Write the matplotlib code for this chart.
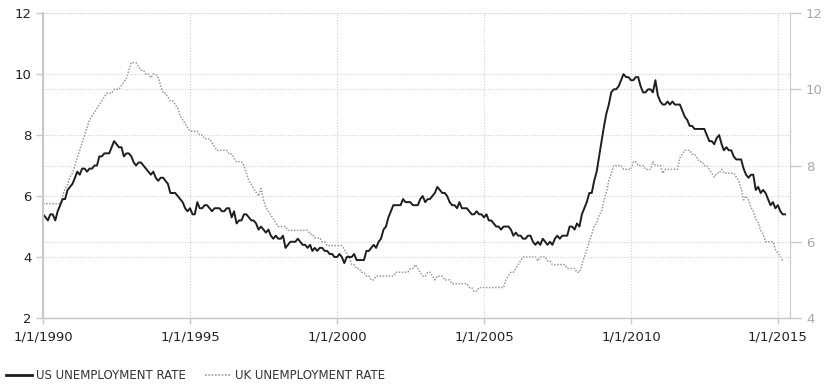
import numpy as np
import pandas as pd
import matplotlib
matplotlib.use("Agg")
import matplotlib.pyplot as plt
from matplotlib.lines import Line2D

# ---------------------------------------------------------
# dados mensais (jan/1990 em diante)
# ---------------------------------------------------------

us_rate = [
    5.4, 5.3, 5.2, 5.4, 5.4, 5.2, 5.5, 5.7, 5.9, 5.9, 6.2, 6.3,   # 1990
    6.4, 6.6, 6.8, 6.7, 6.9, 6.9, 6.8, 6.9, 6.9, 7.0, 7.0, 7.3,   # 1991
    7.3, 7.4, 7.4, 7.4, 7.6, 7.8, 7.7, 7.6, 7.6, 7.3, 7.4, 7.4,   # 1992
    7.3, 7.1, 7.0, 7.1, 7.1, 7.0, 6.9, 6.8, 6.7, 6.8, 6.6, 6.5,   # 1993
    6.6, 6.6, 6.5, 6.4, 6.1, 6.1, 6.1, 6.0, 5.9, 5.8, 5.6, 5.5,   # 1994
    5.6, 5.4, 5.4, 5.8, 5.6, 5.6, 5.7, 5.7, 5.6, 5.5, 5.6, 5.6,   # 1995
    5.6, 5.5, 5.5, 5.6, 5.6, 5.3, 5.5, 5.1, 5.2, 5.2, 5.4, 5.4,   # 1996
    5.3, 5.2, 5.2, 5.1, 4.9, 5.0, 4.9, 4.8, 4.9, 4.7, 4.6, 4.7,   # 1997
    4.6, 4.6, 4.7, 4.3, 4.4, 4.5, 4.5, 4.5, 4.6, 4.5, 4.4, 4.4,   # 1998
    4.3, 4.4, 4.2, 4.3, 4.2, 4.3, 4.3, 4.2, 4.2, 4.1, 4.1, 4.0,   # 1999
    4.0, 4.1, 4.0, 3.8, 4.0, 4.0, 4.0, 4.1, 3.9, 3.9, 3.9, 3.9,   # 2000
    4.2, 4.2, 4.3, 4.4, 4.3, 4.5, 4.6, 4.9, 5.0, 5.3, 5.5, 5.7,   # 2001
    5.7, 5.7, 5.7, 5.9, 5.8, 5.8, 5.8, 5.7, 5.7, 5.7, 5.9, 6.0,   # 2002
    5.8, 5.9, 5.9, 6.0, 6.1, 6.3, 6.2, 6.1, 6.1, 6.0, 5.8, 5.7,   # 2003
    5.7, 5.6, 5.8, 5.6, 5.6, 5.6, 5.5, 5.4, 5.4, 5.5, 5.4, 5.4,   # 2004
    5.3, 5.4, 5.2, 5.2, 5.1, 5.0, 5.0, 4.9, 5.0, 5.0, 5.0, 4.9,   # 2005
    4.7, 4.8, 4.7, 4.7, 4.6, 4.6, 4.7, 4.7, 4.5, 4.4, 4.5, 4.4,   # 2006
    4.6, 4.5, 4.4, 4.5, 4.4, 4.6, 4.7, 4.6, 4.7, 4.7, 4.7, 5.0,   # 2007
    5.0, 4.9, 5.1, 5.0, 5.4, 5.6, 5.8, 6.1, 6.1, 6.5, 6.8, 7.3,   # 2008
    7.8, 8.3, 8.7, 9.0, 9.4, 9.5, 9.5, 9.6, 9.8, 10.0, 9.9, 9.9,  # 2009
    9.8, 9.8, 9.9, 9.9, 9.6, 9.4, 9.4, 9.5, 9.5, 9.4, 9.8, 9.3,   # 2010
    9.1, 9.0, 9.0, 9.1, 9.0, 9.1, 9.0, 9.0, 9.0, 8.8, 8.6, 8.5,   # 2011
    8.3, 8.3, 8.2, 8.2, 8.2, 8.2, 8.2, 8.0, 7.8, 7.8, 7.7, 7.9,   # 2012
    8.0, 7.7, 7.5, 7.6, 7.5, 7.5, 7.3, 7.2, 7.2, 7.2, 6.9, 6.7,   # 2013
    6.6, 6.7, 6.7, 6.2, 6.3, 6.1, 6.2, 6.1, 5.9, 5.7, 5.8, 5.6,   # 2014
    5.7, 5.5, 5.4, 5.4,                                           # 2015
]

uk_rate = [
    7.0, 7.0, 7.0, 7.0, 7.0, 7.0, 7.0, 7.0, 7.2, 7.4, 7.5, 7.7,   # 1990
    7.8, 8.0, 8.2, 8.4, 8.6, 8.8, 9.0, 9.2, 9.3, 9.4, 9.5, 9.6,   # 1991
    9.7, 9.8, 9.9, 9.9, 9.9, 10.0, 10.0, 10.0, 10.1, 10.2, 10.3, 10.5,  # 1992
    10.7, 10.7, 10.7, 10.6, 10.5, 10.5, 10.4, 10.4, 10.3, 10.4, 10.4, 10.3,  # 1993
    10.1, 9.9, 9.9, 9.8, 9.7, 9.7, 9.6, 9.5, 9.3, 9.2, 9.1, 9.0,  # 1994
    8.9, 8.9, 8.9, 8.9, 8.8, 8.8, 8.7, 8.7, 8.7, 8.6, 8.5, 8.4,   # 1995
    8.4, 8.4, 8.4, 8.4, 8.3, 8.3, 8.2, 8.1, 8.1, 8.1, 8.0, 7.8,   # 1996
    7.6, 7.5, 7.4, 7.3, 7.2, 7.4, 7.1, 6.9, 6.8, 6.7, 6.6, 6.5,   # 1997
    6.4, 6.4, 6.4, 6.4, 6.3, 6.3, 6.3, 6.3, 6.3, 6.3, 6.3, 6.3,   # 1998
    6.3, 6.2, 6.2, 6.1, 6.1, 6.1, 6.0, 6.0, 5.9, 5.9, 5.9, 5.9,   # 1999
    5.9, 5.9, 5.9, 5.8, 5.7, 5.6, 5.4, 5.4, 5.3, 5.3, 5.2, 5.2,   # 2000
    5.1, 5.1, 5.0, 5.0, 5.1, 5.1, 5.1, 5.1, 5.1, 5.1, 5.1, 5.1,   # 2001
    5.2, 5.2, 5.2, 5.2, 5.2, 5.2, 5.3, 5.3, 5.4, 5.3, 5.2, 5.1,   # 2002
    5.1, 5.2, 5.2, 5.1, 5.0, 5.1, 5.1, 5.1, 5.0, 5.0, 5.0, 4.9,   # 2003
    4.9, 4.9, 4.9, 4.9, 4.9, 4.9, 4.8, 4.8, 4.7, 4.7, 4.8, 4.8,   # 2004
    4.8, 4.8, 4.8, 4.8, 4.8, 4.8, 4.8, 4.8, 4.8, 5.0, 5.1, 5.2,   # 2005
    5.2, 5.3, 5.4, 5.5, 5.6, 5.6, 5.6, 5.6, 5.6, 5.6, 5.5, 5.6,   # 2006
    5.6, 5.6, 5.5, 5.5, 5.4, 5.4, 5.4, 5.4, 5.4, 5.4, 5.3, 5.3,   # 2007
    5.3, 5.3, 5.2, 5.2, 5.4, 5.6, 5.8, 6.0, 6.2, 6.4, 6.5, 6.7,   # 2008
    6.8, 7.1, 7.3, 7.6, 7.8, 8.0, 8.0, 8.0, 8.0, 7.9, 7.9, 7.9,   # 2009
    7.9, 8.1, 8.1, 8.0, 8.0, 8.0, 7.9, 7.9, 7.9, 8.1, 8.0, 8.0,   # 2010
    8.0, 7.8, 7.9, 7.9, 7.9, 7.9, 7.9, 7.9, 8.2, 8.3, 8.4, 8.4,   # 2011
    8.4, 8.3, 8.3, 8.2, 8.1, 8.1, 8.0, 8.0, 7.9, 7.8, 7.7, 7.8,   # 2012
    7.8, 7.9, 7.8, 7.8, 7.8, 7.8, 7.8, 7.7, 7.6, 7.4, 7.1, 7.2,   # 2013
    7.1, 6.9, 6.8, 6.6, 6.5, 6.3, 6.2, 6.0, 6.0, 6.0, 6.0, 5.8,   # 2014
    5.7, 5.6, 5.5,                                                # 2015
]

anos_ticks = [1990, 1995, 2000, 2005, 2010, 2015]
rotulos_x = ["1/1/%d" % a for a in anos_ticks]

ticks_esq = [2, 4, 6, 8, 10, 12]
ticks_dir = [4, 6, 8, 10, 12]

# ---------------------------------------------------------
# grafico
# ---------------------------------------------------------

datas_us = pd.date_range("1990-01-01", periods=len(us_rate), freq="MS")
datas_uk = pd.date_range("1990-01-01", periods=len(uk_rate), freq="MS")

fig = plt.figure(figsize=(8.29, 3.85), dpi=100)
ax = fig.add_axes([0.052, 0.174, 0.901, 0.792])
ax2 = ax.twinx()

cor_grade = "#d0d0d0"
cor_eixo = "#c8c8c8"

ax.set_ylim(2, 12)
ax2.set_ylim(4, 12)
ax.set_xlim(pd.Timestamp("1990-01-01"), pd.Timestamp("2015-06-01"))

ax.set_yticks(ticks_esq)
ax2.set_yticks(ticks_dir)
xt = [pd.Timestamp("%d-01-01" % a) for a in anos_ticks]
ax.set_xticks(xt)
ax.set_xticklabels(rotulos_x)

ax.grid(True, color=cor_grade, linestyle=(0, (1, 1.5)), linewidth=0.8)
ax2.grid(True, axis="y", color=cor_grade, linestyle=(0, (1, 1.5)), linewidth=0.8)
ax.set_axisbelow(True)

ax.spines["top"].set_visible(False)
ax2.spines["top"].set_visible(False)
ax2.spines["right"].set_color(cor_eixo)
ax2.spines["left"].set_visible(False)
ax2.spines["bottom"].set_visible(False)
ax.spines["right"].set_visible(False)
ax.spines["left"].set_color(cor_eixo)
ax.spines["bottom"].set_color(cor_eixo)
ax.spines["left"].set_linewidth(1.5)
ax.spines["bottom"].set_linewidth(1.0)

ax.tick_params(axis="y", labelcolor="#222222", labelsize=9.5, length=5, width=1, color=cor_eixo)
ax.tick_params(axis="x", labelcolor="#222222", labelsize=9.5, length=4, width=1, color=cor_eixo, pad=5)
ax2.tick_params(axis="y", labelcolor="#aaaaaa", labelsize=9.5, length=8, width=1, color=cor_eixo)

ax2.plot(datas_uk, uk_rate, color="#9a9a9a", linestyle=(0, (1, 1)), linewidth=1.1)
ax.plot(datas_us, us_rate, color="#1e1e1e", linewidth=1.4)
ax.set_zorder(ax2.get_zorder() + 1)
ax.patch.set_visible(False)

# legenda embaixo
h1 = Line2D([], [], color="#1e1e1e", linewidth=2)
h2 = Line2D([], [], color="#9a9a9a", linestyle=(0, (1, 1)), linewidth=1.2)
fig.legend([h1, h2], ["US UNEMPLOYMENT RATE", "UK UNEMPLOYMENT RATE"],
           loc="lower left", bbox_to_anchor=(-0.006, -0.02), ncol=2, frameon=False,
           fontsize=8.5, handlelength=2.2, handletextpad=0.35, columnspacing=1.6,
           labelcolor="#333333")

fig.savefig("out.png", dpi=100)
